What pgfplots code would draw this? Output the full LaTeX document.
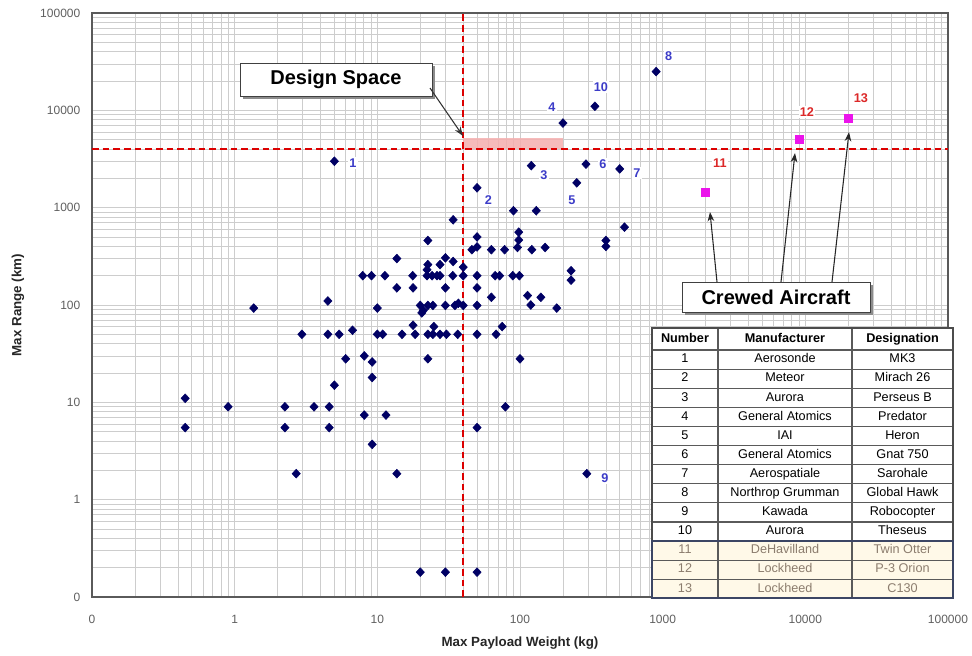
\documentclass[border=0pt]{standalone}
\usepackage{pgfplots}
\pgfplotsset{compat=1.18}
\usepackage{fontspec}
\setmainfont{Liberation Sans}
\usetikzlibrary{arrows.meta}

\definecolor{navy}{RGB}{0,0,100}
\definecolor{lblblue}{RGB}{60,60,200}
\definecolor{lblred}{RGB}{220,40,40}
\definecolor{crewed}{RGB}{235,20,235}
\definecolor{gridgray}{RGB}{205,205,205}
\definecolor{limitred}{RGB}{220,0,0}
\definecolor{dspace}{RGB}{245,175,175}
\definecolor{cream}{RGB}{255,249,232}
\definecolor{creamtext}{RGB}{140,125,110}
\definecolor{tickgray}{RGB}{95,95,95}
\definecolor{framegray}{RGB}{90,90,90}
\definecolor{groupframe}{RGB}{60,70,100}

% unmanned aircraft: payload (kg), range (km)
\pgfplotstableread{
x y
0.45 11
0.45 5.5
0.9 9
1.36 93
2.25 9
2.25 5.5
2.7 1.85
2.96 50
3.6 9
4.6 9
4.6 5.5
4.5 110
4.5 50
5.4 50
6.7 55
5 15
6 28
8.1 30
9.2 26
9.2 18
8.1 7.4
11.5 7.4
9.2 3.7
13.7 1.85
10 93
10 50
10.9 50
14.9 50
18.4 50
17.8 62
22.6 50
24.9 60
24.5 50
27.5 50
30.5 50
36.6 50
50 50
68 50
75 60
22.6 28
100 28
79 9
50 5.5
20 0.18
30 0.18
50 0.18
294 1.85
20 99
21 88
22.6 99
24.5 99
20.5 83
30 99
35 99
37 104
40 99
50 99
63 120
119 100
113 125
140 120
181 93
13.7 150
17.8 150
30 150
50 150
7.9 200
9.1 200
11.3 200
17.7 200
22.3 200
24.2 200
26.2 200
27.5 200
33.8 200
40 200
50 200
67 200
72 200
89 200
99 200
22.3 230
22.6 260
27.5 260
30 305
34 280
40 245
13.7 300
46 370
50 395
50 500
63 370
78 370
98 560
98 465
96 390
121 370
150 390
22.6 460
34 750
90 930
130 930
50 1600
228 225
228 180
400 460
400 400
540 630
5 3000
120 2700
200 7400
250 1800
290 2800
500 2500
900 25000
335 11000
}\uavdata

% crewed aircraft
\pgfplotstableread{
x y
2000 1450
9000 5000
20000 8300
}\crewdata

\begin{document}
\begin{tikzpicture}
\useasboundingbox (0,0) rectangle (729pt,-492pt);
\begin{axis}[
  at={(69pt,-447.75pt)}, anchor=south west,
  scale only axis, width=642pt, height=438pt,
  xmode=log, ymode=log,
  xmin=0.1, xmax=100000, ymin=0.1, ymax=100000,
  xtick={0.1,1,10,100,1000,10000,100000},
  xticklabels={0,1,10,100,1000,10000,100000},
  ytick={0.1,1,10,100,1000,10000,100000},
  yticklabels={0,1,10,100,1000,10000,100000},
  minor xtick={0.2,0.3,0.4,0.5,0.6,0.7,0.8,0.9,2,3,4,5,6,7,8,9,20,30,40,50,60,70,80,90,200,300,400,500,600,700,800,900,2000,3000,4000,5000,6000,7000,8000,9000,20000,30000,40000,50000,60000,70000,80000,90000},
  minor ytick={0.2,0.3,0.4,0.5,0.6,0.7,0.8,0.9,2,3,4,5,6,7,8,9,20,30,40,50,60,70,80,90,200,300,400,500,600,700,800,900,2000,3000,4000,5000,6000,7000,8000,9000,20000,30000,40000,50000,60000,70000,80000,90000},
  grid=both,
  major grid style={draw=gridgray, line width=0.45pt},
  minor grid style={draw=gridgray, line width=0.45pt},
  major tick length=0pt, minor tick length=0pt,
  axis line style={draw=framegray, line width=0.9pt},
  tick label style={font=\fontsize{9}{10}\selectfont, text=tickgray},
  xticklabel style={anchor=center, yshift=-16.5pt},
  yticklabel style={anchor=east, xshift=-5.25pt},
  xlabel={Max Payload Weight (kg)},
  ylabel={Max Range (km)},
  label style={font=\bfseries\fontsize{10}{12}\selectfont, text=black!85},
  xlabel style={at={(axis description cs:0.5,0)}, anchor=center, yshift=-34.5pt},
  ylabel style={at={(axis description cs:0,0.5)}, anchor=center, yshift=55.5pt},
]
  % design space
  \addplot[draw=none, fill=dspace, fill opacity=0.85]
    coordinates {(40,4000) (200,4000) (200,5200) (40,5200)} -- cycle;
  % limits
  \addplot[limitred, line width=1.1pt, dash pattern=on 5pt off 3pt]
    coordinates {(40,0.1) (40,100000)};
  \addplot[limitred, line width=1.1pt, dash pattern=on 5pt off 3pt]
    coordinates {(0.1,4000) (100000,4000)};

  \addplot[only marks, mark=diamond*, mark size=3.3pt,
    mark options={fill=navy, draw=navy, xscale=1.25}] table {\uavdata};
  \addplot[only marks, mark=square*, mark size=3pt,
    mark options={fill=crewed, draw=crewed}] table {\crewdata};

  % point numbers
  \begin{scope}[every node/.style={font=\bfseries\fontsize{9.5}{10}\selectfont, fill=white, inner sep=1pt}]
    \node[text=lblblue] at (axis cs:6.75,2870) {1};
    \node[text=lblblue] at (axis cs:60,1200) {2};
    \node[text=lblblue] at (axis cs:147,2160) {3};
    \node[text=lblblue] at (axis cs:167,10800) {4};
    \node[text=lblblue] at (axis cs:231,1200) {5};
    \node[text=lblblue] at (axis cs:381,2800) {6};
    \node[text=lblblue] at (axis cs:660,2270) {7};
    \node[text=lblblue] at (axis cs:1100,36100) {8};
    \node[text=lblblue] at (axis cs:394,1.66) {9};
    \node[text=lblblue] at (axis cs:369,17300) {10};
    \node[text=lblred] at (axis cs:2520,2870) {11};
    \node[text=lblred] at (axis cs:10260,9600) {12};
    \node[text=lblred] at (axis cs:24500,13400) {13};
  \end{scope}
\end{axis}

\begin{scope}[x=0.75pt, y=-0.75pt]
  % callout: design space
  \fill[black!45] (243,66) rectangle (435,99);
  \draw[fill=white, draw=black!75, line width=0.6pt] (240,63) rectangle (432,96);
  \node[font=\bfseries\fontsize{15}{16}\selectfont] at (336,79.5) {Design Space};
  \draw[black!80, line width=0.8pt, -{Stealth[length=7pt,width=5pt]}] (430,88) -- (463,136);

  % callout: crewed aircraft
  \fill[black!45] (685,285) rectangle (873,315);
  \draw[fill=white, draw=black!75, line width=0.6pt] (682,282) rectangle (870,312);
  \node[font=\bfseries\fontsize{15}{16}\selectfont] at (776,297) {Crewed Aircraft};
  \draw[black!85, line width=0.8pt, -{Stealth[length=7pt,width=5pt]}] (717,282) -- (710,212);
  \draw[black!85, line width=0.8pt, -{Stealth[length=7pt,width=5pt]}] (781,282) -- (795,153);
  \draw[black!85, line width=0.8pt, -{Stealth[length=7pt,width=5pt]}] (832,282) -- (849,132);

  % aircraft table
  \fill[white] (652,328) rectangle (953,598.3);
  \fill[cream] (652,541) rectangle (953,598.3);
  \foreach \cx/\txt in {685/Number, 785/Manufacturer, 902.5/Designation}
    \node[font=\bfseries\fontsize{9.5}{11}\selectfont, text height=7pt, text depth=2pt] at (\cx,339) {\txt};
  \foreach \n/\m/\d [count=\i] in {
      1/Aerosonde/MK3,
      2/Meteor/Mirach 26,
      3/Aurora/Perseus B,
      4/General Atomics/Predator,
      5/IAI/Heron,
      6/General Atomics/Gnat 750,
      7/Aerospatiale/Sarohale,
      8/Northrop Grumman/Global Hawk,
      9/Kawada/Robocopter,
      10/Aurora/Theseus,
      11/DeHavilland/Twin Otter,
      12/Lockheed/P-3 Orion,
      13/Lockheed/C130}{
    \pgfmathsetmacro\cy{350+19.1*(\i-0.5)}
    \ifnum\i>10 \def\tc{creamtext}\else\def\tc{black}\fi
    \begin{scope}[every node/.style={font=\fontsize{9.5}{11}\selectfont, text=\tc, text height=7pt, text depth=2pt}]
      \node at (685,\cy) {\n};
      \node at (785,\cy) {\m};
      \node at (902.5,\cy) {\d};
    \end{scope}
  }
  \foreach \i in {0,...,12}
    \draw[framegray, line width=0.9pt] (652,{350+19.1*\i}) -- (953,{350+19.1*\i});
  \foreach \cx in {718,852}
    \draw[framegray, line width=0.9pt] (\cx,328) -- (\cx,598.3);
  \draw[black!70, line width=1.6pt] (652,328) rectangle (953,598.3);
  \draw[groupframe, line width=1.6pt] (652,541) rectangle (953,598.3);
\end{scope}
\end{tikzpicture}
\end{document}
